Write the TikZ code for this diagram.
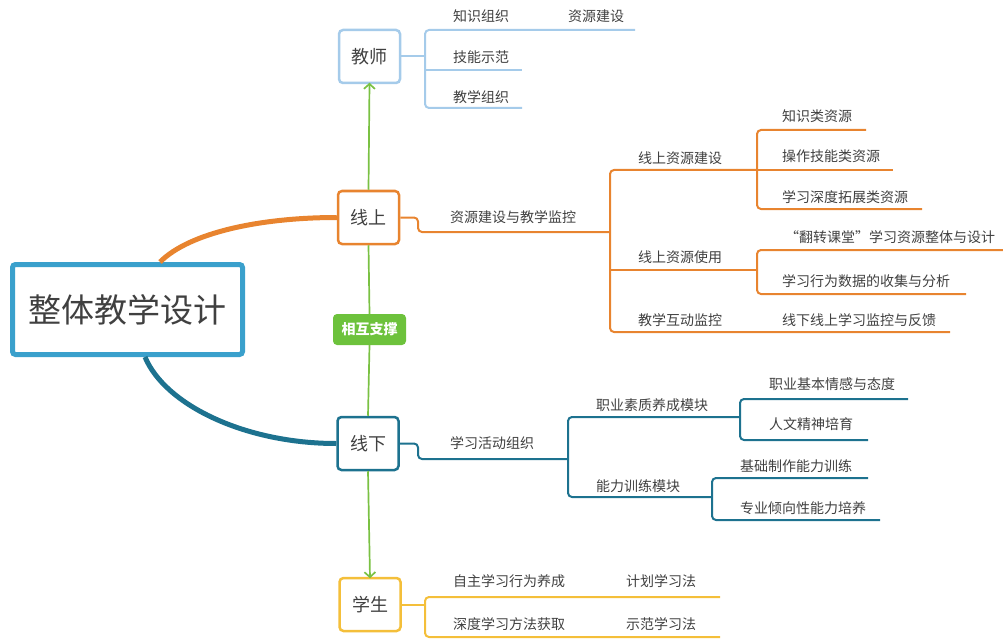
\documentclass[tikz,border=0pt]{standalone}
\usepackage{fontspec}
\setmainfont{Noto Sans CJK SC}
\usetikzlibrary{arrows.meta}
\definecolor{mainblue}{HTML}{3AA0CC}
\definecolor{lblue}{HTML}{A5CBEA}
\definecolor{orng}{HTML}{E8842F}
\definecolor{teal2}{HTML}{1D728F}
\definecolor{yell}{HTML}{F4BF3A}
\definecolor{grn}{HTML}{7AC143}
\definecolor{grnfill}{HTML}{6DC23C}
\definecolor{txt}{HTML}{404040}
\tikzset{
  lbl/.style={anchor=west, inner sep=0pt, font=\fontsize{14}{16}\selectfont, text=txt},
  topic/.style={draw, line width=2.5pt, rounded corners=4pt, fill=white, minimum width=61pt, minimum height=53pt, inner sep=0pt, font=\fontsize{18}{20}\selectfont, text=txt},
  br/.style={line width=2pt, rounded corners=4pt},
  curve/.style={line width=5pt},
  support/.style={line width=1.7pt, draw=grn},
  tip/.style={-{Straight Barb[length=5pt,width=11pt,line width=1.7pt]}},
}
\begin{document}
\begin{tikzpicture}[x=1pt, y=-1pt]
\useasboundingbox (0,0) rectangle (1003,639);
% main
\node[draw=mainblue, line width=5pt, rounded corners=3pt, minimum width=230pt, minimum height=90pt, inner sep=0pt, font=\fontsize{33}{38}\selectfont, text=txt, fill=white] (main) at (127.5,309.5) {整体教学设计};
% topics
\node[topic, draw=lblue] (js) at (369.5,56.5) {教师};
\node[topic, draw=orng] (xs) at (368.5,217.5) {线上};
\node[topic, draw=teal2] (xx) at (368,443.5) {线下};
\node[topic, draw=yell] (xsh) at (370,604.5) {学生};
\node[fill=grnfill, rounded corners=4pt, minimum width=73pt, minimum height=31pt, inner sep=0pt, text=white, font=\fontsize{14}{16}\selectfont\bfseries] (hz) at (369.5,329.5) {相互支撑};
% support line
\draw[support, tip] (xs.north) -- ([yshift=1.5pt]js.south);
\draw[support] (xs.south) -- (hz.north);
\draw[support] (hz.south) -- (xx.north);
\draw[support, tip] (xx.south) -- ([yshift=-1.5pt]xsh.north);
% curves
\coordinate (m1) at (160,262);
\coordinate (m2) at (145,357);
\draw[curve, orng] (m1) .. controls (190,232) and (262,217.5) .. (xs.west);
\draw[curve, teal2] (m2) .. controls (165,405) and (245,443.5) .. (xx.west);

% ---------- 教师 ----------
\node[lbl] (a1) at (453,16) {知识组织};
\node[lbl] (a11) at (568,16) {资源建设};
\node[lbl] (a2) at (453,57) {技能示范};
\node[lbl] (a3) at (453,97) {教学组织};
\coordinate (ea1) at (635,30);
\coordinate (ea2) at (522,70);
\coordinate (ea3) at (522,108);
\draw[br, lblue] (js.east) -- (425,56.5);
\draw[br, lblue] (ea1) -- (425,30) -- (425,108) -- (ea3);
\draw[br, lblue] (425,70) -- (ea2);

% ---------- 线上 ----------
\node[lbl] (b0) at (450,217) {资源建设与教学监控};
\node[lbl] (b1) at (638,158) {线上资源建设};
\node[lbl] (b11) at (782,116) {知识类资源};
\node[lbl] (b12) at (782,156) {操作技能类资源};
\node[lbl] (b13) at (782,197) {学习深度拓展类资源};
\node[lbl] (b2) at (638,257) {线上资源使用};
\node[lbl] (b21) at (785,237) {“翻转课堂”学习资源整体与设计};
\node[lbl] (b22) at (782,281) {学习行为数据的收集与分析};
\node[lbl] (b3) at (638,320) {教学互动监控};
\node[lbl] (b31) at (782,320) {线下线上学习监控与反馈};
\coordinate (eb0) at (610,232);
\draw[br, orng] (xs.east) -- (418,217.5) -- (418,232) -- (eb0);
\draw[br, orng] (757,170) -- (610,170) -- (610,332) -- (950,332);
\draw[br, orng] (610,270) -- (757,270);
\draw[br, orng] (866,130) -- (757,130) -- (757,209) -- (922,209);
\draw[br, orng] (757,170) -- (893,170);
\draw[br, orng] (1003,250) -- (757,250) -- (757,294) -- (966,294);

% ---------- 线下 ----------
\node[lbl] (c0) at (450,443) {学习活动组织};
\node[lbl] (c1) at (596,405) {职业素质养成模块};
\node[lbl] (c11) at (769,384) {职业基本情感与态度};
\node[lbl] (c12) at (769,424) {人文精神培育};
\node[lbl] (c2) at (596,486) {能力训练模块};
\node[lbl] (c21) at (740,466) {基础制作能力训练};
\node[lbl] (c22) at (740,508) {专业倾向性能力培养};
\draw[br, teal2] (xx.east) -- (418,443.5) -- (418,459) -- (568,459);
\draw[br, teal2] (740,417) -- (568,417) -- (568,497) -- (712,497);
\draw[br, teal2] (908,399) -- (740,399) -- (740,440) -- (868,440);
\draw[br, teal2] (868,478) -- (712,478) -- (712,520) -- (880,520);

% ---------- 学生 ----------
\node[lbl] (d1) at (453,581) {自主学习行为养成};
\node[lbl] (d11) at (626,581) {计划学习法};
\node[lbl] (d2) at (453,624) {深度学习方法获取};
\node[lbl] (d21) at (626,624) {示范学习法};
\draw[br, yell] (xsh.east) -- (425,604.5);
\draw[br, yell] (720,597) -- (425,597) -- (425,637) -- (720,637);
\end{tikzpicture}
\end{document}
